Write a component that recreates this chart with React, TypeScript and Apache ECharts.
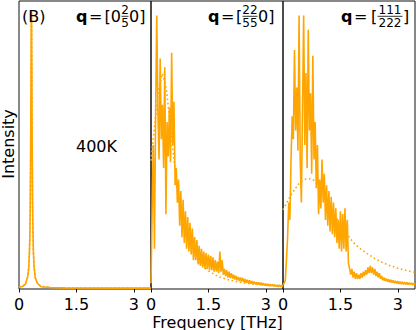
import React, { useEffect, useRef } from "react";
import * as echarts from "echarts";

const FONT = "DejaVu Sans";
const ORANGE = "#FFA500";

// x-axis ticks (THz)
const tickValues = [0, 1.5, 3];
const X_MAX = 3.45;

// Panel 1: q = [0 2/5 0]
const freq1 = [0, 0.1, 0.175, 0.225, 0.255, 0.275, 0.285, 0.295, 0.305, 0.31, 0.315, 0.32, 0.325, 0.33, 0.335, 0.34, 0.345, 0.355, 0.365, 0.375, 0.395, 0.425, 0.475, 0.575, 0.825, 1.2, 1.8, 2.4, 3.0, 3.45];
const val1 = [0.6, 0.9, 1.8, 4.2, 7.2, 13.9, 19.1, 30.5, 47.2, 62.5, 76.4, 91.2, 96.3, 89.8, 77.8, 60.9, 49.1, 29.2, 19.9, 13.1, 7.8, 3.8, 2.1, 0.8, 0.5, 0.4, 0.35, 0.3, 0.35, 0.3];
const fitVal1 = [0.65, 1.05, 2.0, 4.0, 7.5, 13.5, 19.5, 29.8, 48.3, 61.7, 77.1, 90.6, 96.3, 90.6, 77.1, 61.7, 48.3, 29.8, 19.5, 13.5, 7.5, 4.0, 2.0, 0.9, 0.45, 0.35, 0.32, 0.3, 0.3, 0.3];

// Panels 2 and 3: spectra sampled every 0.03 THz
const STEP = 0.03;
const val2 = [
  2, 28, 50, 14, 60, 95, 62, 45, 80, 52,
  64, 42, 77, 26, 58, 46, 63, 44, 82, 50,
  65, 36, 42, 30, 38, 22, 34, 18, 31, 16,
  27, 14, 25, 13, 23, 12, 21, 10, 18, 10,
  17, 8.5, 15, 8, 14, 7.5, 13, 7, 12.5, 7,
  12, 6.5, 11.5, 6.5, 11, 6, 10, 6, 9.5, 5.5,
  13, 6, 10, 5, 7, 4.5, 6.5, 4, 6, 3.8,
  5.5, 3.6, 5, 3.3, 4.6, 3, 4.2, 2.8, 4, 2.6,
  3.8, 2.4, 3.5, 2.2, 3.2, 2, 3, 1.8, 2.8, 1.7,
  2.6, 1.6, 2.4, 1.5, 2.3, 1.4, 2.2, 1.3, 2, 1.2,
  1.9, 1.1, 1.8, 1, 1.7, 1, 1.6, 0.9, 1.5, 0.9,
  1.4, 0.8, 1.4, 0.8, 1.3, 0.8,
];
const val3 = [
  1.5, 2, 3, 10, 18, 30, 24, 45, 60, 52,
  83, 55, 70, 48, 95, 45, 30, 62, 95, 50,
  75, 42, 90, 55, 68, 40, 81, 45, 58, 35,
  50, 26, 38, 28, 45, 30, 40, 24, 36, 22,
  34, 20, 32, 19, 30, 18, 28, 16, 24, 14,
  27, 13, 26, 14, 28, 13, 24, 9, 7, 5,
  7, 4, 6, 3.5, 5.5, 3.5, 5, 3.5, 5.5, 4,
  6, 4.5, 6.5, 5, 7.5, 5.5, 8, 5.5, 7.5, 5,
  7, 4.5, 6, 4, 5.5, 3.5, 4.5, 3, 4, 2.8,
  3.6, 2.5, 3.4, 2.3, 3.2, 2.2, 3, 2, 2.8, 1.9,
  2.7, 1.8, 2.6, 1.7, 2.5, 1.6, 2.4, 1.6, 2.3, 1.5,
  2.2, 1.5, 2.1, 1.4, 2, 1.4,
];

// Fitted curves (dotted)
const fitFreq2 = [0, 0.1, 0.2, 0.3, 0.4, 0.5, 0.6, 0.7, 0.8, 0.9, 1.0, 1.1, 1.2, 1.3, 1.4, 1.5, 1.6, 1.7, 1.8, 1.9, 2.0, 2.2, 2.4, 2.6, 2.8, 3.0, 3.2, 3.45];
const fitVal2 = [44.6, 57.5, 69.6, 74.8, 69.6, 57.5, 44.6, 34, 26, 20.2, 16, 12.9, 10.6, 8.8, 7.4, 6.3, 5.5, 4.75, 4.2, 3.7, 3.3, 2.66, 2.19, 1.83, 1.56, 1.34, 1.16, 1.0];
const fitFreq3 = [0, 0.1, 0.2, 0.3, 0.4, 0.5, 0.6, 0.7, 0.8, 0.9, 1.0, 1.1, 1.2, 1.3, 1.4, 1.5, 1.6, 1.7, 1.8, 1.9, 2.0, 2.2, 2.4, 2.6, 2.8, 3.0, 3.2, 3.4, 3.45];
const fitVal3 = [27.5, 30, 32.5, 34.5, 36.3, 37.5, 38.2, 38.3, 37.8, 36.5, 34.8, 32.5, 29.5, 27, 24.6, 22.5, 20.5, 18.5, 16.8, 15.3, 14.2, 12.3, 10.6, 9.2, 8.1, 7.2, 6.5, 5.9, 5.8];

const pairs = (xs: number[], ys: number[]) => ys.map((y, i) => [xs[i], y]);
const gridPairs = (ys: number[]) => ys.map((y, i) => [+(i * STEP).toFixed(3), y]);

const GRID_LEFTS = [19, 151, 283];
const GRID_W = 132;

export default function App() {
  const ref = useRef<HTMLDivElement>(null);
  useEffect(() => {
    if (!ref.current) return;
    const chart = echarts.init(ref.current, null, { renderer: "svg" });

    const grids = GRID_LEFTS.map((left) => ({
      left,
      top: 1,
      width: GRID_W,
      height: 288,
      show: true,
      borderColor: "#111",
      borderWidth: 1,
      backgroundColor: "transparent",
    }));
    const xAxes = GRID_LEFTS.map((_, i) => ({
      gridIndex: i,
      type: "value",
      min: 0,
      max: X_MAX,
      interval: 1.5,
      axisLine: { show: false },
      axisTick: { show: true, length: 3.5, customValues: tickValues, lineStyle: { color: "#111", width: 1 } },
      splitLine: { show: false },
      axisLabel: {
        customValues: tickValues,
        fontSize: 16,
        lineHeight: 14,
        fontFamily: FONT,
        color: "#000",
        margin: 8,
        formatter: (v: number) => String(v),
      },
    }));
    const yAxes = GRID_LEFTS.map((_, i) => ({
      gridIndex: i,
      type: "value",
      min: 0,
      max: 100,
      show: false,
    }));

    const line = (i: number, data: number[][], dotted: boolean) => ({
      type: "line",
      xAxisIndex: i,
      yAxisIndex: i,
      data,
      showSymbol: false,
      symbol: "none",
      clip: true,
      z: dotted ? 3 : 2,
      lineStyle: dotted
        ? { color: ORANGE, width: 1.6, type: [1.6, 2.6] }
        : { color: ORANGE, width: 1.6 },
    });

    const txt = (text: string, x: number, y: number, extra: any = {}) => ({
      type: "text",
      x,
      y,
      z: 100,
      style: {
        text,
        fontSize: 16,
        lineHeight: 16,
        fontFamily: FONT,
        fill: "#000",
        align: "left",
        verticalAlign: "middle",
        ...extra,
      },
    });
    const bar = (x1: number, x2: number, y: number) => ({
      type: "line",
      z: 100,
      shape: { x1, y1: y, x2, y2: y },
      style: { stroke: "#000", lineWidth: 0.8 },
    });
    const small = { fontSize: 12, lineHeight: 10, align: "center" };
    const NUM_Y = 10;
    const DEN_Y = 22.5;
    const BAR_Y = 16.3;

    const graphic = [
      txt("(B)", 22, 16),
      // panel 1 label
      txt("q", 76, 16, { fontWeight: "bold" }),
      txt("=", 89, 16),
      txt("[0", 104.5, 16),
      txt("2", 125, NUM_Y, small),
      txt("5", 125, DEN_Y, small),
      bar(121.5, 128.5, BAR_Y),
      txt("0]", 129, 16),
      // panel 2 label
      txt("q", 208, 16, { fontWeight: "bold" }),
      txt("=", 221, 16),
      txt("[", 236, 16),
      txt("22", 250, NUM_Y, small),
      txt("55", 250, DEN_Y, small),
      bar(242.5, 257.5, BAR_Y),
      txt("0]", 258, 16),
      // panel 3 label
      txt("q", 341, 16, { fontWeight: "bold" }),
      txt("=", 354, 16),
      txt("[", 371, 16),
      txt("111", 390, NUM_Y, small),
      txt("222", 390, DEN_Y, small),
      bar(377.5, 402.5, BAR_Y),
      txt("]", 403, 16),
      // other texts
      txt("400K", 76, 146),
      txt("Frequency [THz]", 217.5, 322, { align: "center", lineHeight: 14 }),
      {
        type: "text",
        x: 8,
        y: 144,
        rotation: Math.PI / 2,
        z: 100,
        style: {
          text: "Intensity",
          fontSize: 16,
          fontFamily: FONT,
          fill: "#000",
          align: "center",
          verticalAlign: "middle",
        },
      },
    ];

    chart.setOption({
      animation: false,
      backgroundColor: "#fff",
      grid: grids,
      xAxis: xAxes,
      yAxis: yAxes,
      series: [
        line(0, pairs(freq1, val1), false),
        line(0, pairs(freq1, fitVal1), true),
        line(1, gridPairs(val2), false),
        line(1, pairs(fitFreq2, fitVal2), true),
        line(2, gridPairs(val3), false),
        line(2, pairs(fitFreq3, fitVal3), true),
      ],
      graphic,
    });
    return () => chart.dispose();
  }, []);
  return (
    <div
      ref={ref}
      style={{ position: "fixed", left: 0, top: 0, width: 416, height: 330, background: "#fff" }}
    />
  );
}
